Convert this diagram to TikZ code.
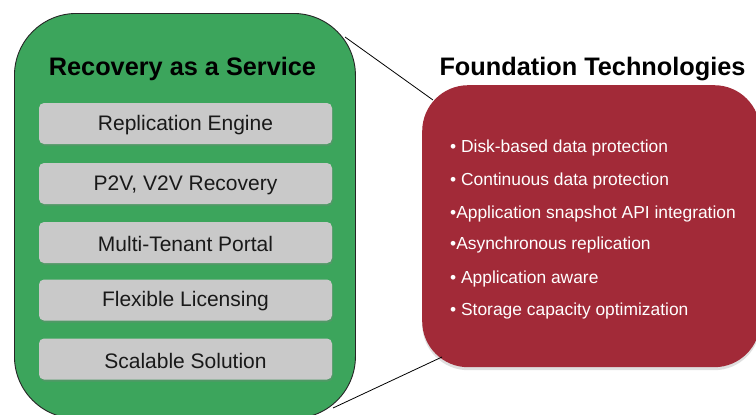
\documentclass[tikz,border=0pt]{standalone}
\usepackage{fontspec}
\setmainfont{Liberation Sans}
\usetikzlibrary{shadows}
\definecolor{raasgreen}{HTML}{3CA55C}
\definecolor{itemgray}{HTML}{C9C9C9}
\definecolor{techred}{HTML}{A22A38}
\begin{document}
\begin{tikzpicture}[x=1pt,y=-1pt,
  panel/.style={draw=black!85,line width=0.9pt,fill=raasgreen,rounded corners=62pt,
    minimum width=341pt,minimum height=405pt,anchor=north west,inner sep=0pt},
  redpanel/.style={fill=techred,rounded corners=46pt,minimum width=338pt,minimum height=282pt,
    anchor=north west,inner sep=0pt,
    drop shadow={shadow xshift=0pt,shadow yshift=-3pt,opacity=0.25}},
  itembox/.style={fill=itemgray,rounded corners=5pt,minimum width=293pt,minimum height=41pt,
    inner sep=0pt,drop shadow={shadow xshift=1pt,shadow yshift=-2pt,opacity=0.3}},
  itemtext/.style={font=\fontsize{21}{23}\selectfont,text=black!90,inner sep=0pt},
  headline/.style={font=\fontsize{25.3}{28}\selectfont\bfseries,text=black},
  bullet/.style={anchor=west,font=\fontsize{17.4}{20}\selectfont,text=white,inner sep=0pt},
  link/.style={draw=black,line width=0.8pt}]
\clip (0,0) rectangle (756,415);
\useasboundingbox (0,0) rectangle (756,415);
\fill[white] (0,0) rectangle (756,415);
% green panel
\node[panel] (raas) at (14,13) {};
\node[headline] (raastitle) at (182.5,69) {Recovery as a Service};
\foreach \n/\y/\t in {1/123.5/Replication Engine,2/183.5/{P2V, V2V Recovery},
    3/242.5/Multi-Tenant Portal,4/300/Flexible Licensing,5/359/Scalable Solution}{
  \node[itembox] (i\n) at (185.5,\y) {};
  \node[itemtext] (t\n) at ([yshift=-1.5pt]i\n.center) {\t};
}
% red panel
\node[redpanel] (tech) at (422,85) {};
\node[headline] (techtitle) at (592.5,69) {Foundation Technologies};
\node[bullet] (b1) at (450,148.5) {\textbullet\ Disk-based data protection};
\node[bullet] (b2) at (450,181.5) {\textbullet\ Continuous data protection};
\node[bullet] (b3) at (450,214) {\textbullet Application snapshot API integration};
\node[bullet] (b4) at (450,245) {\textbullet Asynchronous replication};
\node[bullet] (b5) at (450,278.5) {\textbullet\ Application aware};
\node[bullet] (b6) at (450,310.5) {\textbullet\ Storage capacity optimization};
% connectors
\coordinate (gtop) at (345,37);
\coordinate (rtop) at (433,100);
\coordinate (gbot) at (333,408);
\coordinate (rbot) at (442,357);
\draw[link] (gtop) -- (rtop);
\draw[link] (gbot) -- (rbot);
\end{tikzpicture}
\end{document}
